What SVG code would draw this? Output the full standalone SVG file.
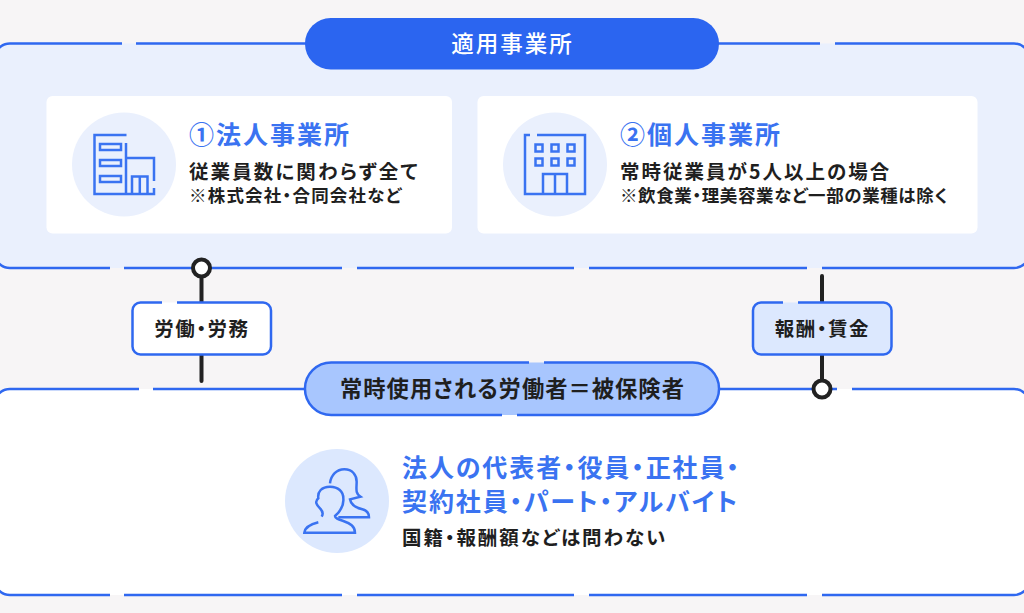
<svg xmlns="http://www.w3.org/2000/svg" width="1024" height="613" viewBox="0 0 1024 613">
<style>
text{font-family:"Noto Sans CJK JP","Noto Sans",sans-serif;font-feature-settings:"palt";fill:#1f1f1f;font-weight:700}
.ln{fill:none;stroke:#2f68f0;stroke-width:2.5}
.ic{fill:none;stroke:#3a73f1;stroke-width:2.5}
.t{fill:#3a73f1;font-size:25px}
.b{font-size:19.500px}.s{font-size:17.500px}
.conn{stroke:#222;stroke-width:4;stroke-linecap:round;fill:none}
.dot{fill:#fff;stroke:#222;stroke-width:4}
</style>
<rect width="1024" height="613" fill="#f7f5f6"/>
<g id="workplace-panel">
<rect x="-6" y="43.500" width="1036" height="224.500" rx="16" fill="#eaf0fd"/>
<path class="ln" d="M122,43.500H10A16,16 0 0 0 -6,59.500V252A16,16 0 0 0 10,268H110M124,268H342M357,268H574M589,268H807M822,268H1014A16,16 0 0 0 1030,252V59.500A16,16 0 0 0 1014,43.500H835M820,43.500H700M320,43.500H136"/>
</g>
<g id="workplace-title">
<rect x="305" y="18" width="414" height="51.500" rx="25.700" fill="#2b65f0"/>
<text x="512.500" y="52" text-anchor="middle" font-size="22.500" letter-spacing="2" style="fill:#fff;font-weight:500">適用事業所</text>
</g>
<g id="corporate-card">
<rect x="46.500" y="96" width="405.500" height="137.500" rx="6" fill="#fff"/>
<circle cx="124" cy="164.500" r="52" fill="#eaf0fd"/>
<path class="ic" d="M126.500,135H94.500V194H154V188M126,143V194M126,158H154V181M132,194V176.500H147.500V194M139.800,176.500V194"/>
<rect class="ic" x="100" y="144" width="21" height="6"/><rect class="ic" x="100" y="160" width="21" height="6"/><rect class="ic" x="100" y="176" width="21" height="6"/>
<text class="t" x="189" y="144" letter-spacing="2">①法人事業所</text>
<text class="b" x="189" y="179" letter-spacing="2.100">従業員数に関わらず全て</text>
<text class="s" x="189" y="202" letter-spacing="1.200">※株式会社・合同会社など</text>
</g>
<g id="individual-card">
<rect x="477.500" y="96" width="500" height="137.500" rx="6" fill="#fff"/>
<circle cx="555" cy="164.500" r="52" fill="#eaf0fd"/>
<path class="ic" d="M530,135H525V194H585V135H537M543,194V174H567V194M555,174V194"/>
<rect class="ic" x="535.500" y="144.500" width="7" height="7"/><rect class="ic" x="551.500" y="144.500" width="7" height="7"/><rect class="ic" x="567.500" y="144.500" width="7" height="7"/>
<rect class="ic" x="535.500" y="158.500" width="7" height="7"/><rect class="ic" x="551.500" y="158.500" width="7" height="7"/><rect class="ic" x="567.500" y="158.500" width="7" height="7"/>
<text class="t" x="620" y="144" letter-spacing="2">②個人事業所</text>
<text class="b" x="620" y="179" letter-spacing="2">常時従業員が5人以上の場合</text>
<text class="s" x="620" y="202" letter-spacing=".600">※飲食業・理美容業など一部の業種は除く</text>
</g>
<g id="insured-panel">
<rect x="-6" y="389" width="1036" height="206" rx="16" fill="#fff"/>
<path class="ln" d="M139,389H10A16,16 0 0 0 -6,405V579A16,16 0 0 0 10,595H110M124,595H342M357,595H574M589,595H807M822,595H1014A16,16 0 0 0 1030,579V405A16,16 0 0 0 1014,389H852M837,389H700M320,389H153"/>
</g>
<g id="connectors">
<path class="conn" d="M201.500,268V381M822,276V389"/>
<circle class="dot" cx="201.500" cy="268" r="8.500"/>
<circle class="dot" cx="822" cy="389" r="8.500"/>
</g>
<g id="labour-label">
<rect x="132.500" y="302.500" width="138.500" height="52" rx="8" fill="#fff"/>
<path class="ln" d="M162,302.500H140.500A8,8 0 0 0 132.500,310.500V346.500A8,8 0 0 0 140.500,354.500H263A8,8 0 0 0 271,346.500V310.500A8,8 0 0 0 263,302.500H177"/>
<text x="202" y="336" text-anchor="middle" font-size="19.500" letter-spacing="1.500">労働・労務</text>
</g>
<g id="pay-label">
<rect x="753" y="302.500" width="138.500" height="52" rx="8" fill="#dce8fe"/>
<path class="ln" d="M783,302.500H761A8,8 0 0 0 753,310.500V346.500A8,8 0 0 0 761,354.500H883.500A8,8 0 0 0 891.500,346.500V310.500A8,8 0 0 0 883.500,302.500H798"/>
<text x="822.500" y="336" text-anchor="middle" font-size="19.500" letter-spacing="1.500">報酬・賃金</text>
</g>
<g id="insured-title">
<rect x="305" y="362.500" width="414" height="52.500" rx="26.200" fill="#a8c6fe"/>
<path class="ln" d="M529,362.500H331.200A26.200,26.200 0 0 0 331.200,415H502M517,415H692.800A26.200,26.200 0 0 0 692.800,362.500H544"/>
<text x="512.500" y="397" text-anchor="middle" font-size="22.300" letter-spacing="1">常時使用される労働者＝被保険者</text>
</g>
<g id="insured-body">
<circle cx="337" cy="501" r="52" fill="#dce8fe"/>
<g transform="translate(275 440) scale(.3333)">
<path class="ic" style="stroke-width:7.500" d="M165,130C168,105 185,88 208,88C232,88 245,105 245,125C245,145 240,160 256,170L225,178C228,195 240,203 262,208C278,212 282,222 282,232H190"/>
<path class="ic" style="stroke-width:7.500" d="M130,247C110,252 90,260 88,278H240C240,258 225,250 205,243C190,238 180,235 180,228C195,215 207,195 205,175C205,155 190,140 165,140C140,140 127,155 130,175C118,185 125,195 135,205C145,215 145,222 140,230"/>
</g>
<text class="t" x="402" y="477" letter-spacing="1.900">法人の代表者・役員・正社員・</text>
<text class="t" x="402" y="511" letter-spacing="1.900">契約社員・パート・アルバイト</text>
<text class="b" x="402" y="545" letter-spacing="1.900">国籍・報酬額などは問わない</text>
</g>
</svg>
